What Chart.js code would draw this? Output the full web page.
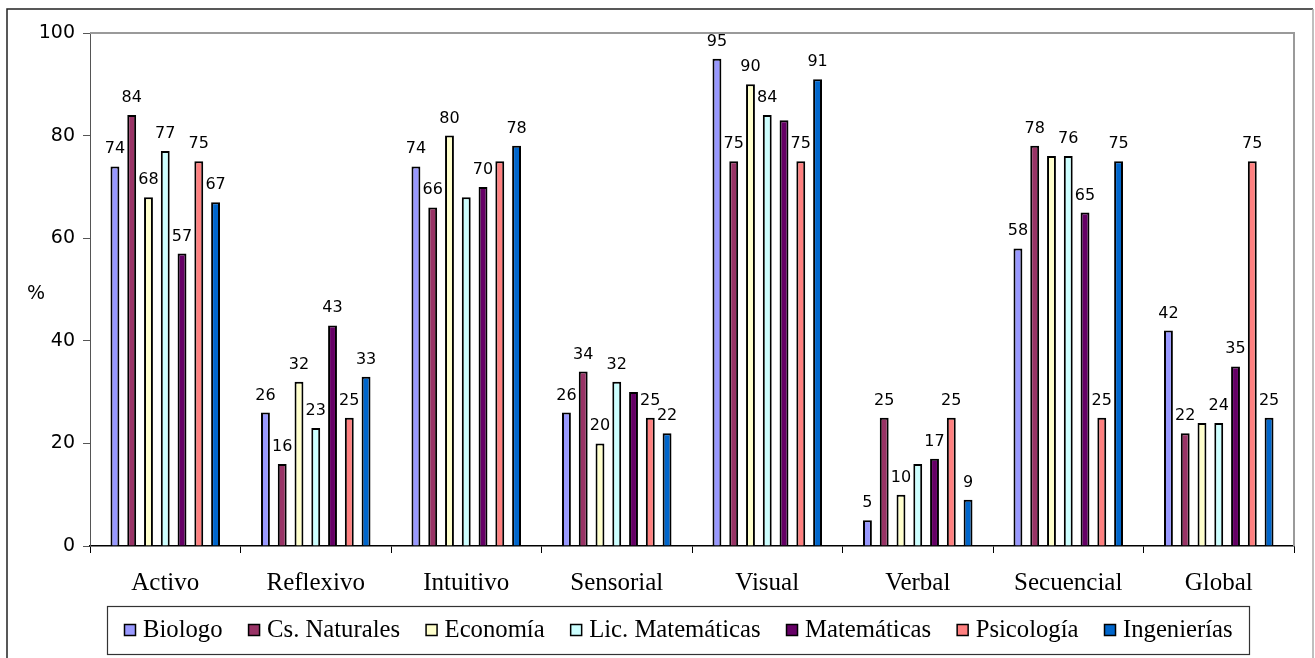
<!DOCTYPE html>
<html>
<head>
<meta charset="utf-8">
<script src="https://cdn.jsdelivr.net/npm/chart.js@4.4.1/dist/chart.umd.min.js"></script>
<style>
  html, body { margin: 0; padding: 0; background: #fff; }
  #wrap { width: 1315px; height: 658px; position: relative; }
</style>
</head>
<body>
<div id="wrap"><canvas id="c" width="1315" height="658"></canvas></div>
<script>
// Learning-style dimensions and the share (%) of each programme's students in them
const categories = ['Activo', 'Reflexivo', 'Intuitivo', 'Sensorial', 'Visual', 'Verbal', 'Secuencial', 'Global'];
const seriesNames = ['Biologo', 'Cs. Naturales', 'Economía', 'Lic. Matemáticas', 'Matemáticas', 'Psicología', 'Ingenierías'];
const seriesColors = ['#9999FF', '#993366', '#FFFFCC', '#CCFFFF', '#660066', '#FF8080', '#0066CC'];

const biologo        = [74, 26, 74, 26, 95,  5, 58, 42];
const csNaturales    = [84, 16, 66, 34, 75, 25, 78, 22];
const economia       = [68, 32, 80, 20, 90, 10, 76, 24];
const licMatematicas = [77, 23, 68, 32, 84, 16, 76, 24];
const matematicas    = [57, 43, 70, 30, 83, 17, 65, 35];
const psicologia     = [75, 25, 75, 25, 75, 25, 25, 75];
const ingenierias    = [67, 33, 78, 22, 91,  9, 75, 25];

const yTicks = [0, 20, 40, 60, 80, 100];

// value labels left off where they would crowd neighbouring bars: [series, category]
const unlabeled = [[3, 2], [5, 2], [4, 3], [4, 4], [3, 5], [2, 6], [2, 7]];

const seriesValues = [biologo, csNaturales, economia, licMatematicas, matematicas, psicologia, ingenierias];

const datasets = seriesNames.map((name, i) => ({
  label: name,
  data: seriesValues[i],
  backgroundColor: seriesColors[i],
  borderColor: '#000000',
  borderWidth: 2,
  borderSkipped: 'start',
  categoryPercentage: 0.78,
  barPercentage: 0.53
}));

const decorations = {
  id: 'decorations',
  afterDraw(chart) {
    const ctx = chart.ctx;
    const a = chart.chartArea;
    ctx.save();

    // plot-area frame (top and right)
    ctx.strokeStyle = '#9a9a9a';
    ctx.lineWidth = 2;
    ctx.beginPath();
    ctx.moveTo(a.left, a.top);
    ctx.lineTo(a.right, a.top);
    ctx.lineTo(a.right, a.bottom);
    ctx.stroke();

    // outer chart border
    ctx.lineWidth = 1.5;
    ctx.strokeStyle = '#222';
    ctx.beginPath();
    ctx.moveTo(7, 670);
    ctx.lineTo(7, 9);
    ctx.lineTo(1313, 9);
    ctx.stroke();
    ctx.strokeStyle = '#aaa';
    ctx.beginPath();
    ctx.moveTo(1313, 9);
    ctx.lineTo(1313, 670);
    ctx.stroke();

    // axis unit
    ctx.fillStyle = '#000';
    ctx.font = '19px "DejaVu Sans"';
    ctx.textAlign = 'center';
    ctx.textBaseline = 'middle';
    ctx.fillText('%', 36, 294);

    // value labels above bars
    ctx.font = '16px "DejaVu Sans"';
    ctx.textBaseline = 'alphabetic';
    chart.data.datasets.forEach((ds, si) => {
      const meta = chart.getDatasetMeta(si);
      meta.data.forEach((bar, ci) => {
        if (unlabeled.some(p => p[0] === si && p[1] === ci)) return;
        ctx.fillText(String(ds.data[ci]), bar.x, bar.y - 13);
      });
    });

    // legend
    const lx = 107, ly = 606, lw = 1142, lh = 48;
    ctx.strokeStyle = '#333';
    ctx.lineWidth = 1.2;
    ctx.strokeRect(lx + 0.5, ly + 0.5, lw, lh);
    ctx.font = '24.7px "Liberation Serif"';
    ctx.textAlign = 'left';
    ctx.textBaseline = 'middle';
    let x = 124.5;
    const cy = ly + lh / 2;
    chart.data.datasets.forEach((ds) => {
      ctx.fillStyle = ds.backgroundColor;
      ctx.fillRect(x, cy - 5.5, 11, 11);
      ctx.strokeStyle = '#000';
      ctx.lineWidth = 1.5;
      ctx.strokeRect(x, cy - 5.5, 11, 11);
      ctx.fillStyle = '#000';
      const tx = x + 18.5;
      ctx.fillText(ds.label, tx, cy + 1);
      x = tx + ctx.measureText(ds.label).width + 26;
    });

    ctx.restore();
  }
};

new Chart(document.getElementById('c'), {
  type: 'bar',
  data: { labels: categories, datasets },
  options: {
    responsive: false,
    devicePixelRatio: 1,
    animation: false,
    layout: { padding: { top: 33, right: 21, left: 0, bottom: 0 } },
    plugins: {
      legend: { display: false },
      tooltip: { enabled: false }
    },
    scales: {
      x: {
        grid: { offset: true, drawOnChartArea: false, drawTicks: true, tickLength: 7, color: '#000', lineWidth: 1 },
        border: { display: true, color: '#000', width: 1.5 },
        ticks: { color: '#000', font: { family: 'Liberation Serif', size: 25 }, padding: 15, maxRotation: 0 },
        afterFit(scale) { scale.height = 112; }
      },
      y: {
        min: 0,
        max: 100,
        afterBuildTicks(scale) { scale.ticks = yTicks.map(v => ({ value: v })); },
        grid: { drawOnChartArea: false, drawTicks: true, tickLength: 7, color: '#555', lineWidth: 1 },
        border: { display: true, color: '#555', width: 1 },
        ticks: { color: '#000', font: { family: 'DejaVu Sans', size: 19 }, padding: 8 },
        afterFit(scale) { scale.width = 90; }
      }
    }
  },
  plugins: [decorations]
});
</script>
</body>
</html>
